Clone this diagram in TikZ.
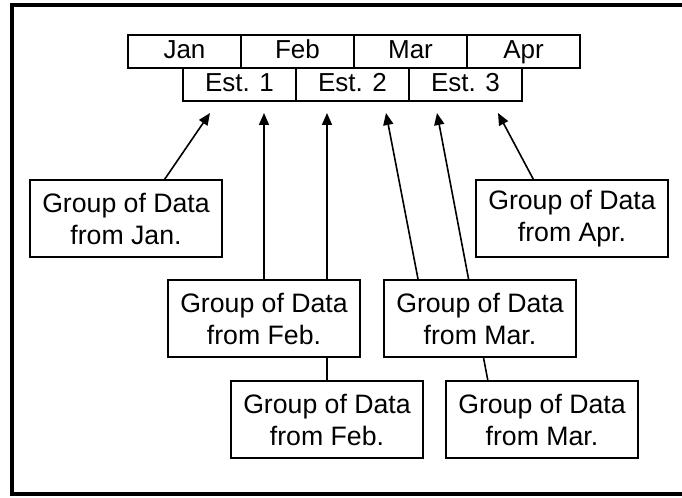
\documentclass[tikz,border=0pt]{standalone}
\usepackage{fontspec}
\setmainfont{Liberation Sans}
\usetikzlibrary{arrows.meta,backgrounds,calc}

\begin{document}
\begin{tikzpicture}[x=0.75pt,y=-0.75pt,>={Triangle[length=9pt,width=7.5pt]},
  font=\fontsize{20}{24}\selectfont,
  cell/.style={draw, line width=2.2pt, minimum width=84.75pt, minimum height=24.75pt, inner sep=0pt,
    font=\fontsize{19.5}{23}\selectfont, text height=14pt, text depth=3pt},
  group/.style={draw, fill=white, line width=1.2pt, minimum width=144pt, minimum height=57.75pt, align=center, inner sep=0pt},
  feed/.style={->, line width=1.2pt}]
  \useasboundingbox (0,0) rectangle (682,498);

  % Frame (right side runs off the page)
  \draw[line width=3pt] (682,5) -- (12,5) -- (12,494) -- (682,494);

  % Months and estimates
  \foreach \m [count=\i] in {Jan,Feb,Mar,Apr}
    \node[cell] (m\i) at ({71.5+113*\i},51.5) {\m};
  \foreach \i in {1,2,3}
    \node[cell] (e\i) at ({126.5+113*\i},84.5) {Est. \i};

  % Groups of data
  \node[group] (gjan)  at (126,218.5) {Group of Data\\from Jan.};
  \node[group] (gapr)  at (572,218.5) {Group of Data\\from Apr.};
  \node[group] (gfeba) at (264,318.5) {Group of Data\\from Feb.};
  \node[group] (gmara) at (480,318.5) {Group of Data\\from Mar.};
  \node[group] (gfebb) at (327,419.5) {Group of Data\\from Feb.};
  \node[group] (gmarb) at (542,419.5) {Group of Data\\from Mar.};

  % Arrow tips under the estimates
  \coordinate (tjan)  at (210,113);
  \coordinate (tfeba) at (264,113);
  \coordinate (tfebb) at (327,113);
  \coordinate (tmara) at (386,113);
  \coordinate (tmarb) at (437,113);
  \coordinate (tapr)  at (498,113);

  % Arrows (behind the boxes)
  \begin{scope}[on background layer]
    \draw[feed] ($(gjan.north west)!0.70!(gjan.north east)$) -- (tjan);
    \draw[feed] (gfeba.north) -- (tfeba);
    \draw[feed] (gfebb.north) -- (tfebb);
    \draw[feed] ($(gmara.north west)!0.18!(gmara.north east)$) -- (tmara);
    \draw[feed] ($(gmarb.north west)!0.22!(gmarb.north east)$) -- (tmarb);
    \draw[feed] ($(gapr.north west)!0.30!(gapr.north east)$) -- (tapr);
  \end{scope}
\end{tikzpicture}
\end{document}
